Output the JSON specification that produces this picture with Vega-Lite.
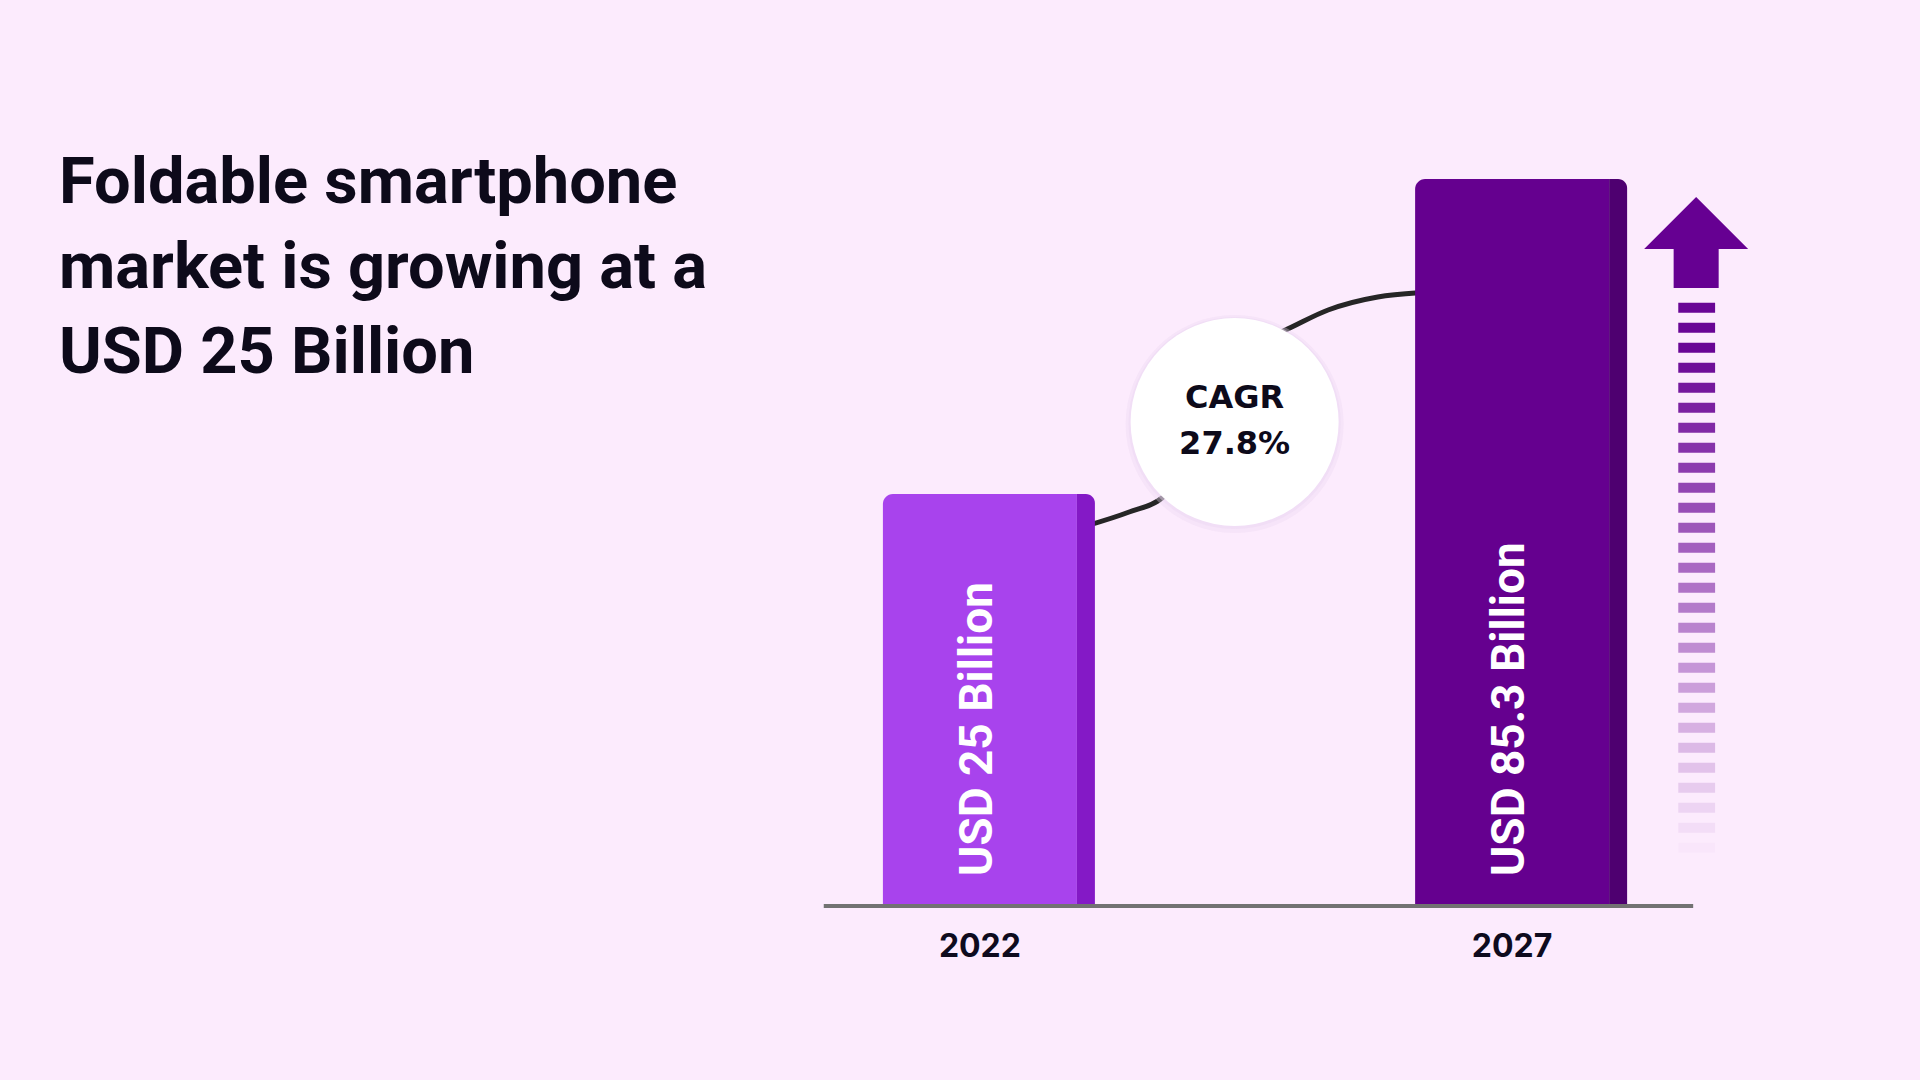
{
  "$schema": "https://vega.github.io/schema/vega-lite/v6.json",
  "width": 1920,
  "height": 904,
  "autosize": {"type": "none"},
  "padding": {"left": 0, "top": 0, "right": 0, "bottom": 176},
  "background": "#fcebfd",
  "title": {
    "text": ["Foldable smartphone", "market is growing at a", "USD 25 Billion"],
    "anchor": "start",
    "frame": "group",
    "orient": "top",
    "offset": 0,
    "fontSize": 65,
    "font": "Roboto",
    "fontWeight": "bold",
    "color": "#0d0a1a",
    "lineHeight": 85,
    "baseline": "top",
    "dx": 59,
    "dy": 387
  },
  "datasets": {
    "market": [
      {"year": 2022, "value": 25, "label": "USD 25 Billion"},
      {"year": 2027, "value": 85.3, "label": "USD 85.3 Billion"}
    ],
    "connector": [
      {"t": 2023.0, "v": 21.0},
      {"t": 2023.402, "v": 22.69},
      {"t": 2023.71, "v": 24.48},
      {"t": 2024.056, "v": 31.13},
      {"t": 2024.523, "v": 48.73},
      {"t": 2024.85, "v": 51.39},
      {"t": 2025.271, "v": 55.54},
      {"t": 2025.738, "v": 58.19},
      {"t": 2026.12, "v": 59.05}
    ],
    "cagr": [{"metric": "CAGR", "rate": 0.278}],
    "trail": [
      {"step": 0}, {"step": 1}, {"step": 2}, {"step": 3}, {"step": 4}, {"step": 5}, {"step": 6},
      {"step": 7}, {"step": 8}, {"step": 9}, {"step": 10}, {"step": 11}, {"step": 12}, {"step": 13},
      {"step": 14}, {"step": 15}, {"step": 16}, {"step": 17}, {"step": 18}, {"step": 19}, {"step": 20},
      {"step": 21}, {"step": 22}, {"step": 23}, {"step": 24}, {"step": 25}, {"step": 26}, {"step": 27}
    ]
  },
  "layer": [
    {
      "layer": [
        {
          "data": {"name": "connector"},
          "mark": {"type": "line", "interpolate": "monotone", "color": "#262626", "strokeWidth": 5, "strokeCap": "round"},
          "encoding": {
            "x": {"field": "t", "type": "quantitative", "scale": {"domain": [2012.841, 2030.785], "zero": false, "nice": false}, "axis": null},
            "y": {"field": "v", "type": "quantitative", "scale": {"type": "pow", "exponent": 0.4644, "domain": [0, 137.19], "nice": false}, "axis": null}
          }
        },
        {
          "data": {"name": "market"},
          "mark": {"type": "bar", "width": 194, "cornerRadiusTopLeft": 10, "orient": "vertical"},
          "encoding": {
            "x": {"field": "year", "type": "quantitative", "scale": {"domain": [2012.841, 2030.785], "zero": false, "nice": false}, "axis": null},
            "y": {"field": "value", "type": "quantitative", "scale": {"type": "pow", "exponent": 0.4644, "domain": [0, 137.19], "nice": false}, "axis": null},
            "y2": {"datum": 0},
            "color": {"field": "year", "type": "nominal", "scale": {"domain": [2022, 2027], "range": ["#a843ed", "#65008f"]}, "legend": null}
          }
        },
        {
          "data": {"name": "market"},
          "mark": {"type": "bar", "width": 18, "xOffset": 106, "cornerRadiusTopRight": 10, "orient": "vertical"},
          "encoding": {
            "x": {"field": "year", "type": "quantitative", "scale": {"domain": [2012.841, 2030.785], "zero": false, "nice": false}, "axis": null},
            "y": {"field": "value", "type": "quantitative", "scale": {"type": "pow", "exponent": 0.4644, "domain": [0, 137.19], "nice": false}, "axis": null},
            "y2": {"datum": 0},
            "fill": {"field": "year", "type": "nominal", "scale": {"domain": [2022, 2027], "range": ["#8419c6", "#4e0070"]}, "legend": null}
          }
        },
        {
          "data": {"name": "market"},
          "transform": [{"filter": "datum.year == 2022"}],
          "mark": {"type": "rule", "color": "#727272", "strokeWidth": 4, "yOffset": 2},
          "encoding": {
            "x": {"datum": 2020.533, "type": "quantitative", "scale": {"domain": [2012.841, 2030.785], "zero": false, "nice": false}, "axis": null},
            "x2": {"datum": 2028.701},
            "y": {"datum": 0, "type": "quantitative", "scale": {"type": "pow", "exponent": 0.4644, "domain": [0, 137.19], "nice": false}, "axis": null}
          }
        },
        {
          "data": {"name": "market"},
          "mark": {"type": "text", "angle": 270, "align": "left", "baseline": "middle", "dx": 28, "xOffset": -2, "fontSize": 46, "font": "Roboto", "fontWeight": "bold", "color": "#ffffff"},
          "encoding": {
            "x": {"field": "year", "type": "quantitative", "scale": {"domain": [2012.841, 2030.785], "zero": false, "nice": false}, "axis": null},
            "y": {"datum": 0, "type": "quantitative", "scale": {"type": "pow", "exponent": 0.4644, "domain": [0, 137.19], "nice": false}, "axis": null},
            "text": {"field": "label", "type": "nominal"}
          }
        },
        {
          "data": {"name": "market"},
          "mark": {"type": "text", "baseline": "middle", "dy": 43, "fontSize": 32, "font": "Inter", "fontWeight": "bold", "color": "#0e0b1e"},
          "encoding": {
            "x": {"field": "year", "type": "quantitative", "scale": {"domain": [2012.841, 2030.785], "zero": false, "nice": false}, "axis": null},
            "y": {"datum": 0, "type": "quantitative", "scale": {"type": "pow", "exponent": 0.4644, "domain": [0, 137.19], "nice": false}, "axis": null},
            "text": {"field": "year", "type": "nominal"}
          }
        },
        {
          "data": {"name": "cagr"},
          "mark": {"type": "point", "shape": "circle", "filled": true, "size": 47524, "color": "#ead8f2", "opacity": 0.35, "strokeWidth": 0, "yOffset": 2},
          "encoding": {
            "x": {"datum": 2024.393, "type": "quantitative", "scale": {"domain": [2012.841, 2030.785], "zero": false, "nice": false}, "axis": null},
            "y": {"datum": 35.42, "type": "quantitative", "scale": {"type": "pow", "exponent": 0.4644, "domain": [0, 137.19], "nice": false}, "axis": null}
          }
        },
        {
          "data": {"name": "cagr"},
          "mark": {"type": "point", "shape": "circle", "filled": true, "size": 45000, "color": "#ead8f2", "opacity": 0.45, "strokeWidth": 0, "yOffset": 1},
          "encoding": {
            "x": {"datum": 2024.393, "type": "quantitative", "scale": {"domain": [2012.841, 2030.785], "zero": false, "nice": false}, "axis": null},
            "y": {"datum": 35.42, "type": "quantitative", "scale": {"type": "pow", "exponent": 0.4644, "domain": [0, 137.19], "nice": false}, "axis": null}
          }
        },
        {
          "data": {"name": "cagr"},
          "mark": {"type": "point", "shape": "circle", "filled": true, "size": 43264, "color": "#ffffff", "opacity": 1, "strokeWidth": 0},
          "encoding": {
            "x": {"datum": 2024.393, "type": "quantitative", "scale": {"domain": [2012.841, 2030.785], "zero": false, "nice": false}, "axis": null},
            "y": {"datum": 35.42, "type": "quantitative", "scale": {"type": "pow", "exponent": 0.4644, "domain": [0, 137.19], "nice": false}, "axis": null}
          }
        },
        {
          "data": {"name": "cagr"},
          "mark": {"type": "text", "baseline": "middle", "dy": -24, "fontSize": 32, "font": "DejaVu Sans", "fontWeight": "bold", "color": "#0d0a1a"},
          "encoding": {
            "x": {"datum": 2024.393, "type": "quantitative", "scale": {"domain": [2012.841, 2030.785], "zero": false, "nice": false}, "axis": null},
            "y": {"datum": 35.42, "type": "quantitative", "scale": {"type": "pow", "exponent": 0.4644, "domain": [0, 137.19], "nice": false}, "axis": null},
            "text": {"field": "metric", "type": "nominal"}
          }
        },
        {
          "data": {"name": "cagr"},
          "mark": {"type": "text", "baseline": "middle", "dy": 22, "fontSize": 32, "font": "DejaVu Sans", "fontWeight": "bold", "color": "#0d0a1a"},
          "encoding": {
            "x": {"datum": 2024.393, "type": "quantitative", "scale": {"domain": [2012.841, 2030.785], "zero": false, "nice": false}, "axis": null},
            "y": {"datum": 35.42, "type": "quantitative", "scale": {"type": "pow", "exponent": 0.4644, "domain": [0, 137.19], "nice": false}, "axis": null},
            "text": {"field": "rate", "type": "quantitative", "format": ".1%"}
          }
        }
      ]
    },
    {
      "data": {"name": "trail"},
      "layer": [
        {
          "mark": {"type": "rule", "strokeWidth": 10, "color": "#690595", "strokeCap": "butt"},
          "encoding": {
            "x": {"datum": 2028.561, "type": "quantitative", "scale": {"domain": [2012.841, 2030.785], "zero": false, "nice": false}, "axis": null},
            "x2": {"datum": 2028.907},
            "y": {"field": "step", "type": "quantitative", "scale": {"domain": [-15.385, 29.815], "reverse": true, "zero": false, "nice": false}, "axis": null},
            "opacity": {"field": "step", "type": "quantitative", "scale": {"domain": [2, 27], "range": [1, 0.02], "clamp": true}, "legend": null}
          }
        },
        {
          "transform": [{"filter": "datum.step == 0"}],
          "mark": {"type": "point", "shape": "M0,-0.875L1,0.125L0.433,0.125L0.433,0.875L-0.433,0.875L-0.433,0.125L-1,0.125Z", "size": 10816, "filled": true, "color": "#660092", "strokeWidth": 0, "opacity": 1},
          "encoding": {
            "x": {"datum": 2028.729, "type": "quantitative", "scale": {"domain": [2012.841, 2030.785], "zero": false, "nice": false}, "axis": null},
            "y": {"datum": -3.26, "type": "quantitative", "scale": {"domain": [-15.385, 29.815], "reverse": true, "zero": false, "nice": false}, "axis": null}
          }
        }
      ]
    }
  ],
  "resolve": {"scale": {"y": "independent"}},
  "config": {"view": {"stroke": null}}
}
